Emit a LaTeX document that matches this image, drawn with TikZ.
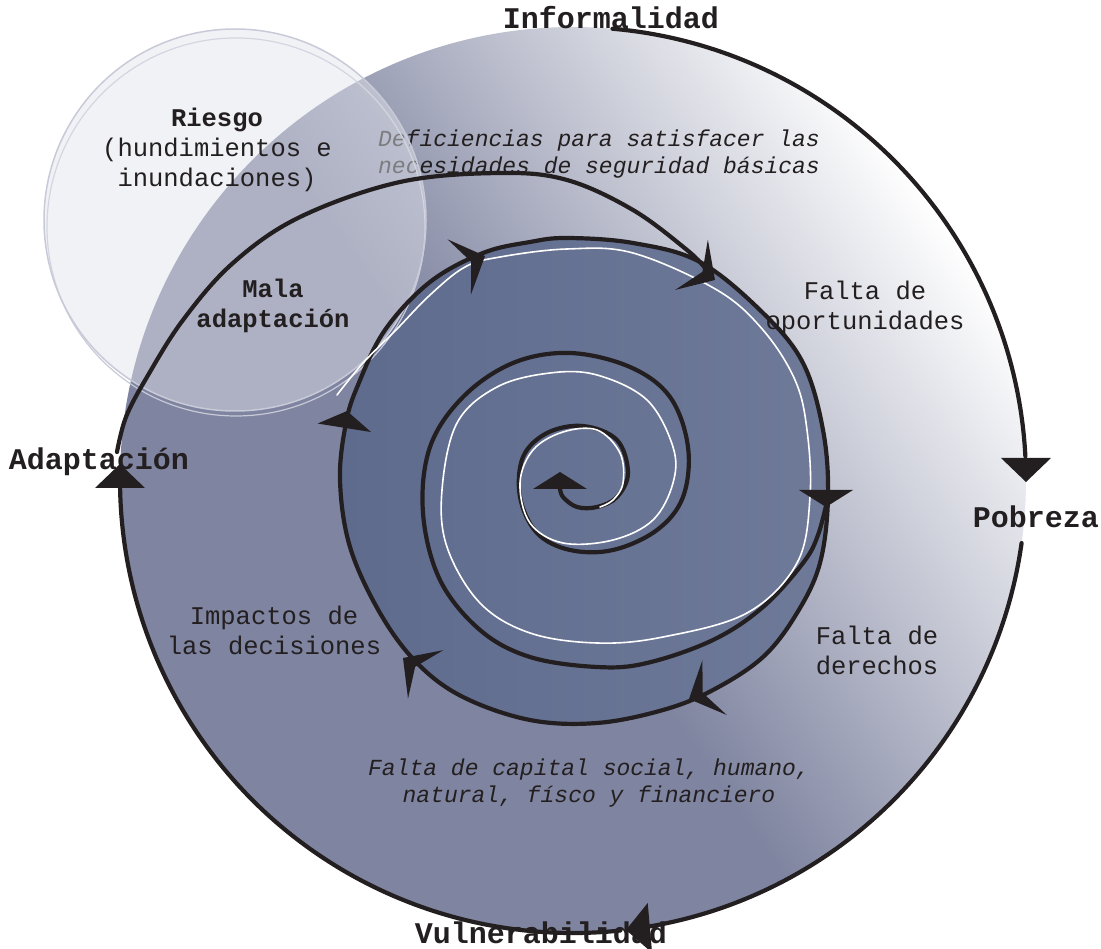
\documentclass[tikz,border=0pt]{standalone}
\usepackage{fontspec}
\newfontfamily\courier{Liberation Mono}
\definecolor{ink}{RGB}{35,31,32}
\definecolor{outerblue}{RGB}{127,132,160}
\definecolor{coreleft}{RGB}{94,107,141}
\definecolor{coreright}{RGB}{111,122,153}
\definecolor{riskfill}{RGB}{225,227,235}
\definecolor{riskedge}{RGB}{200,202,216}
\pgfdeclarehorizontalshading{discfade}{100bp}{color(0bp)=(outerblue); color(47bp)=(outerblue); color(75bp)=(white); color(100bp)=(white)}
\tikzset{
  stagelabel/.style={text=ink,anchor=base,inner sep=0pt,font=\courier\bfseries\fontsize{30}{30}\selectfont},
  causelabel/.style={text=ink,align=center,inner sep=0pt,font=\courier\fontsize{25.5}{30}\selectfont},
  lacklabel/.style={text=ink,inner sep=0pt,font=\courier\itshape\fontsize{23}{27.5}\selectfont},
  spiralline/.style={ink,line width=4.2pt},
  glintline/.style={white,line width=1.6pt},
  pics/tritip/.style={code={\fill[ink] (0,0) -- (-24,-25) -- (-24,25) -- cycle;}},
  pics/hubtip/.style={code={\fill[ink] (0,0) -- (-17,-27) -- (-17,27) -- cycle;}},
  pics/kitetip/.style={code={\fill[ink] (0,0) -- (-28,-30) -- (-15,0) -- (-28,30) -- cycle;}}
}

\begin{document}
\begin{tikzpicture}[x=1pt,y=-1pt,line cap=round,line join=round]
    \path[use as bounding box] (0,0) rectangle (1101,949);

    \shade[shading=discfade,shading angle=35] (573,480) circle[radius=453];
    \shade[left color=coreleft,right color=coreright] plot[smooth cycle,tension=0.6] coordinates {(483,253) (530,242) (567,238) (633,243) (700,262) (763,313) (803,363) (823,430) (828,497) (820,563) (797,613) (763,657) (713,690) (663,710) (597,723) (530,720) (463,697) (417,663) (380,613) (350,547) (340,480) (346,423) (358,385) (385,330) (430,282)};

    \node[lacklabel,align=left] (deficiencias) at (599,154) {Deficiencias para satisfacer las\\necesidades de seguridad básicas};

    \draw[riskedge,line width=1.2pt] (236,227) circle[radius=189];
    \fill[riskfill,fill opacity=0.48] (235,220) circle[radius=191];
    \draw[riskedge,line width=1.5pt] (235,220) circle[radius=191];

    \draw[spiralline] (573,480) ++(-85:453) arc[start angle=-85,end angle=-3,radius=453];
    \draw[spiralline] (573,480) ++(8:453) arc[start angle=8,end angle=80.5,radius=453];
    \draw[spiralline] (573,480) ++(84:453) arc[start angle=84,end angle=179.5,radius=453];
    \draw[spiralline] plot[smooth,tension=0.6] coordinates {(117,452) (126,417) (147,377) (183,320) (233,263) (300,217) (400,182) (500,173) (567,180) (633,210) (687,250) (705,268)};
    \draw[spiralline] plot[smooth cycle,tension=0.6] coordinates {(483,253) (530,242) (567,238) (633,243) (700,262) (763,313) (803,363) (823,430) (828,497) (820,563) (797,613) (763,657) (713,690) (663,710) (597,723) (530,720) (463,697) (417,663) (380,613) (350,547) (340,480) (346,423) (358,385) (385,330) (430,282)};
    \draw[spiralline] plot[smooth,tension=0.6] coordinates {(828,497) (818,535) (803,563) (763,607) (713,640) (647,663) (597,667) (530,657) (480,630) (440,580) (423,513) (430,447) (463,397) (513,363) (570,353) (630,367) (670,397) (688,447) (683,497) (657,530) (613,550) (570,550) (537,533) (520,497) (523,457) (547,433) (583,426) (617,440) (628,473) (617,497) (597,507) (577,507) (563,497) (560,488)};
    \draw[glintline] plot[smooth,tension=0.6] coordinates {(337,395) (363,363) (396,330) (430,295) (465,267) (500,257) (567,249) (633,253) (717,290) (763,330) (795,380) (807,430) (810,497) (797,563) (747,613) (663,637) (597,643) (530,633) (480,603) (447,547) (442,490) (457,423) (497,387) (550,373) (597,375) (647,400) (673,447) (673,483) (653,520) (613,540) (563,543) (530,523) (520,483) (533,450) (563,432) (597,430) (620,453) (623,483) (613,500) (600,507)};

    \pic[rotate=-90] at (1026,482) {tritip};
    \pic[rotate=185] at (626,930) {tritip};
    \pic[rotate=90] at (120,464) {tritip};
    \pic[rotate=-33] at (715,280) {kitetip};
    \pic[rotate=-90] at (826,507) {hubtip};
    \pic[rotate=204] at (689,699) {kitetip};
    \pic[rotate=144] at (403,658) {kitetip};
    \pic[rotate=81] at (347,411) {hubtip};
    \pic[rotate=23] at (485,256) {kitetip};
    \pic[rotate=90] at (560,472) {hubtip};

    \node[stagelabel] (informalidad) at (611,29) {Informalidad};
    \node[stagelabel] (pobreza) at (1036,527) {Pobreza};
    \node[stagelabel] (vulnerabilidad) at (541,943) {Vulnerabilidad};
    \node[stagelabel] (adaptacion) at (99,470) {Adaptación};

    \node[causelabel] (riesgo) at (217,150) {\bfseries Riesgo\\(hundimientos e\\inundaciones)};
    \node[causelabel,font=\courier\bfseries\fontsize{25.5}{30}\selectfont] (mala) at (273,306) {Mala\\adaptación};
    \node[causelabel] (oportunidades) at (865,308) {Falta de\\oportunidades};
    \node[causelabel] (derechos) at (877,650) {Falta de\\derechos};
    \node[causelabel] (impactos) at (274,630) {Impactos de\\las decisiones};
    \node[lacklabel,align=center] (capital) at (589,783) {Falta de capital social, humano,\\natural, físco y financiero};
\end{tikzpicture}
\end{document}
